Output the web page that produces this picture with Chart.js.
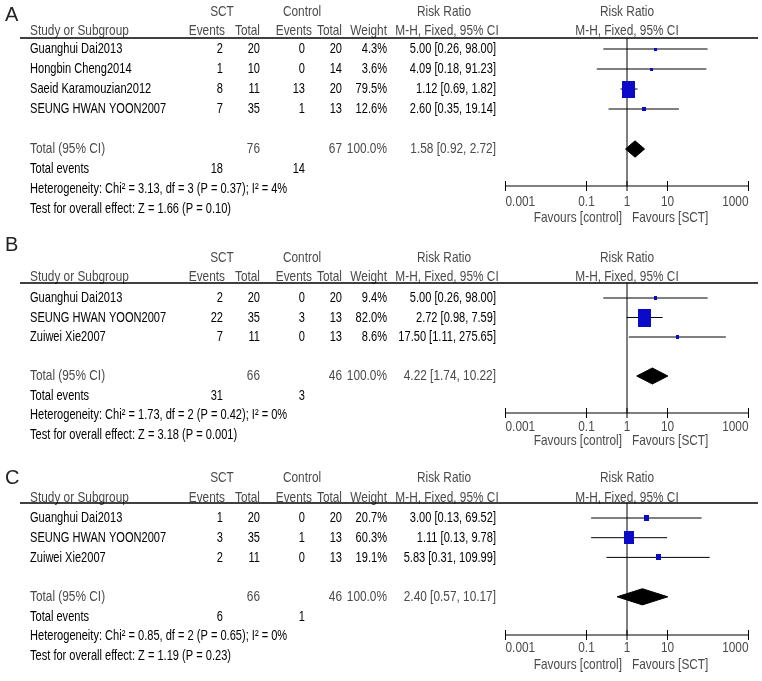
<!DOCTYPE html>
<html>
<head>
<meta charset="utf-8">
<script src="https://cdn.jsdelivr.net/npm/chart.js@4.4.0/dist/chart.umd.min.js"></script>
<style>
  html, body { margin: 0; padding: 0; background: #fff; }
  #wrap { position: relative; width: 762px; height: 681px; }
  canvas { position: absolute; left: 0; }
</style>
</head>
<body>
<div id="wrap">
  <canvas id="panelA" width="762" height="228" style="top:0px"></canvas>
  <canvas id="panelB" width="762" height="226" style="top:228px"></canvas>
  <canvas id="panelC" width="762" height="227" style="top:454px"></canvas>
</div>
<script>
// axis
const tickValues = [0.001, 0.1, 1, 10, 1000];
const tickLabels = ['0.001', '0.1', '1', '10', '1000'];

// Panel A
const studiesA = ['Guanghui Dai2013', 'Hongbin Cheng2014', 'Saeid Karamouzian2012', 'SEUNG HWAN YOON2007'];
const sctEventsA = [2, 1, 8, 7];
const sctTotalA = [20, 10, 11, 35];
const ctrlEventsA = [0, 0, 13, 1];
const ctrlTotalA = [20, 14, 20, 13];
const weightA = [4.3, 3.6, 79.5, 12.6];
const rrA = [5.00, 4.09, 1.12, 2.60];
const loA = [0.26, 0.18, 0.69, 0.35];
const hiA = [98.00, 91.23, 1.82, 19.14];
const pooledA = [1.58, 0.92, 2.72];
const sumTotalsA = [76, 67];
const sumEventsA = [18, 14];
const hetA = 'Heterogeneity: Chi\u00b2 = 3.13, df = 3 (P = 0.37); I\u00b2 = 4%';
const testA = 'Test for overall effect: Z = 1.66 (P = 0.10)';

// Panel B
const studiesB = ['Guanghui Dai2013', 'SEUNG HWAN YOON2007', 'Zuiwei Xie2007'];
const sctEventsB = [2, 22, 7];
const sctTotalB = [20, 35, 11];
const ctrlEventsB = [0, 3, 0];
const ctrlTotalB = [20, 13, 13];
const weightB = [9.4, 82.0, 8.6];
const rrB = [5.00, 2.72, 17.50];
const loB = [0.26, 0.98, 1.11];
const hiB = [98.00, 7.59, 275.65];
const pooledB = [4.22, 1.74, 10.22];
const sumTotalsB = [66, 46];
const sumEventsB = [31, 3];
const hetB = 'Heterogeneity: Chi\u00b2 = 1.73, df = 2 (P = 0.42); I\u00b2 = 0%';
const testB = 'Test for overall effect: Z = 3.18 (P = 0.001)';

// Panel C
const studiesC = ['Guanghui Dai2013', 'SEUNG HWAN YOON2007', 'Zuiwei Xie2007'];
const sctEventsC = [1, 3, 2];
const sctTotalC = [20, 35, 11];
const ctrlEventsC = [0, 1, 0];
const ctrlTotalC = [20, 13, 13];
const weightC = [20.7, 60.3, 19.1];
const rrC = [3.00, 1.11, 5.83];
const loC = [0.13, 0.13, 0.31];
const hiC = [69.52, 9.78, 109.99];
const pooledC = [2.40, 0.57, 10.17];
const sumTotalsC = [66, 46];
const sumEventsC = [6, 1];
const hetC = 'Heterogeneity: Chi\u00b2 = 0.85, df = 2 (P = 0.65); I\u00b2 = 0%';
const testC = 'Test for overall effect: Z = 1.19 (P = 0.23)';

const FONT = '"Liberation Sans", Arial, sans-serif';

// condensed text, the source uses a narrow face
function put(ctx, s, x, y, align, opt) {
  opt = opt || {};
  ctx.save();
  ctx.translate(x, y);
  ctx.scale(opt.sx || 0.738, 1);
  ctx.font = (opt.size || 15) + 'px ' + FONT;
  ctx.fillStyle = opt.color || '#000';
  ctx.textAlign = align;
  ctx.textBaseline = 'middle';
  ctx.fillText(s, 0, 0);
  ctx.restore();
}

function seg(ctx, x1, y1, x2, y2, w) {
  ctx.save();
  ctx.strokeStyle = '#000';
  ctx.lineWidth = w || 1;
  ctx.beginPath();
  ctx.moveTo(x1, y1);
  ctx.lineTo(x2, y2);
  ctx.stroke();
  ctx.restore();
}

function boxImage(w) {
  const c = document.createElement('canvas');
  c.width = Math.max(3, Math.round(2 + 0.14 * w));
  c.height = Math.max(3, Math.round(2 + 0.19 * w));
  const g = c.getContext('2d');
  g.fillStyle = '#0a0ac8';
  g.fillRect(0, 0, c.width, c.height);
  return c;
}

const f2 = v => v.toFixed(2);
const ci = (r, l, h) => f2(r) + ' [' + f2(l) + ', ' + f2(h) + ']';

function buildPanel(id, d, L) {
  const n = d.studies.length;
  const t = L.top, H = L.height;
  const HEAD = { color: '#4a4a4a', size: 15, sx: 0.79 };

  const axisPlugin = {
    id: 'forestAxis',
    beforeDatasetsDraw(chart) {
      const ctx = chart.ctx, xs = chart.scales.x, a = chart.chartArea;
      const x1 = xs.getPixelForValue(1);
      seg(ctx, x1, a.top, x1, a.bottom, 1);
      seg(ctx, xs.getPixelForValue(tickValues[0]), a.bottom, xs.getPixelForValue(tickValues[tickValues.length - 1]), a.bottom, 1);
      tickValues.forEach((v, k) => {
        const px = xs.getPixelForValue(v);
        seg(ctx, px, a.bottom - 5, px, a.bottom + 5, 1);
        const al = k === 0 ? 'left' : (k === tickValues.length - 1 ? 'right' : 'center');
        put(ctx, tickLabels[k], px, L.tickY - t, al, HEAD);
      });
      put(ctx, 'Favours [control]', x1 - 5, L.favY - t, 'right', HEAD);
      put(ctx, 'Favours [SCT]', x1 + 5, L.favY - t, 'left', HEAD);
    }
  };

  const textPlugin = {
    id: 'forestText',
    afterDraw(chart) {
      const ctx = chart.ctx, ys = chart.scales.y;
      const row = i => ys.getPixelForValue(i);
      put(ctx, d.letter, 5, L.letterY - t, 'left', { size: 20, sx: 1, color: '#222' });
      // headers
      const h1 = L.h1 - t, h2 = L.h2 - t;
      put(ctx, 'SCT', 222, h1, 'center', HEAD);
      put(ctx, 'Control', 302, h1, 'center', HEAD);
      put(ctx, 'Risk Ratio', 444, h1, 'center', HEAD);
      put(ctx, 'Risk Ratio', 627, h1, 'center', HEAD);
      put(ctx, 'Study or Subgroup', 30, h2, 'left', HEAD);
      put(ctx, 'Events', 225, h2, 'right', HEAD);
      put(ctx, 'Total', 260, h2, 'right', HEAD);
      put(ctx, 'Events', 312, h2, 'right', HEAD);
      put(ctx, 'Total', 342, h2, 'right', HEAD);
      put(ctx, 'Weight', 387, h2, 'right', HEAD);
      put(ctx, 'M-H, Fixed, 95% CI', 447, h2, 'center', HEAD);
      put(ctx, 'M-H, Fixed, 95% CI', 627, h2, 'center', HEAD);
      seg(ctx, 20, L.rule - t, 758, L.rule - t, 1.5);
      // study rows
      d.studies.forEach((s, i) => {
        const y = row(i);
        put(ctx, s, 30, y, 'left');
        put(ctx, String(d.sctEvents[i]), 223, y, 'right');
        put(ctx, String(d.sctTotal[i]), 260, y, 'right');
        put(ctx, String(d.ctrlEvents[i]), 305, y, 'right');
        put(ctx, String(d.ctrlTotal[i]), 342, y, 'right');
        put(ctx, d.weight[i].toFixed(1) + '%', 387, y, 'right');
        put(ctx, ci(d.rr[i], d.lo[i], d.hi[i]), 496, y, 'right');
      });
      // totals
      let y = row(n + 1);
      put(ctx, 'Total (95% CI)', 30, y, 'left', HEAD);
      put(ctx, String(d.sumTotals[0]), 260, y, 'right', HEAD);
      put(ctx, String(d.sumTotals[1]), 342, y, 'right', HEAD);
      put(ctx, '100.0%', 387, y, 'right', HEAD);
      put(ctx, ci(d.pooled[0], d.pooled[1], d.pooled[2]), 496, y, 'right', HEAD);
      y = row(n + 2);
      put(ctx, 'Total events', 30, y, 'left');
      put(ctx, String(d.sumEvents[0]), 223, y, 'right');
      put(ctx, String(d.sumEvents[1]), 305, y, 'right');
      put(ctx, d.het, 30, row(n + 3), 'left');
      put(ctx, d.test, 30, row(n + 4), 'left');
    }
  };

  const datasets = [];
  d.studies.forEach((s, i) => {
    datasets.push({
      type: 'line', data: [{ x: d.lo[i], y: i }, { x: d.hi[i], y: i }],
      borderColor: '#000', borderWidth: 1, pointRadius: 0, fill: false, order: 2
    });
  });
  datasets.push({
    type: 'scatter', data: d.rr.map((v, i) => ({ x: v, y: i })),
    pointStyle: d.weight.map(boxImage), pointRadius: 3, order: 1
  });
  const p = d.pooled, ty = n + 1, hh = 0.41;
  datasets.push({
    type: 'line',
    data: [{ x: p[1], y: ty }, { x: p[0], y: ty - hh }, { x: p[2], y: ty }, { x: p[0], y: ty + hh }, { x: p[1], y: ty }],
    borderColor: '#000', backgroundColor: '#000', borderWidth: 1, pointRadius: 0, fill: 'shape', tension: 0, order: 1
  });

  new Chart(document.getElementById(id), {
    type: 'scatter',
    data: { datasets },
    options: {
      responsive: false,
      animation: false,
      devicePixelRatio: 1,
      events: [],
      layout: { padding: { left: 505.5, right: 762 - 748.5, top: L.rule - t, bottom: t + H - L.axis } },
      plugins: { legend: { display: false }, tooltip: { enabled: false } },
      scales: {
        x: { type: 'logarithmic', min: 0.001, max: 1000, display: false },
        y: {
          type: 'linear', reverse: true, display: false,
          min: (L.rule - L.row0) / L.dy, max: (L.axis - L.row0) / L.dy
        }
      }
    },
    plugins: [axisPlugin, textPlugin]
  });
}

buildPanel('panelA', {
  letter: 'A', studies: studiesA, sctEvents: sctEventsA, sctTotal: sctTotalA, ctrlEvents: ctrlEventsA,
  ctrlTotal: ctrlTotalA, weight: weightA, rr: rrA, lo: loA, hi: hiA, pooled: pooledA,
  sumTotals: sumTotalsA, sumEvents: sumEventsA, het: hetA, test: testA
}, { top: 0, height: 228, letterY: 15, h1: 12, h2: 31, rule: 38, row0: 49, dy: 20, axis: 186, tickY: 202, favY: 218 });

buildPanel('panelB', {
  letter: 'B', studies: studiesB, sctEvents: sctEventsB, sctTotal: sctTotalB, ctrlEvents: ctrlEventsB,
  ctrlTotal: ctrlTotalB, weight: weightB, rr: rrB, lo: loB, hi: hiB, pooled: pooledB,
  sumTotals: sumTotalsB, sumEvents: sumEventsB, het: hetB, test: testB
}, { top: 228, height: 226, letterY: 245, h1: 258, h2: 277, rule: 283, row0: 298, dy: 19.5, axis: 413, tickY: 427, favY: 441 });

buildPanel('panelC', {
  letter: 'C', studies: studiesC, sctEvents: sctEventsC, sctTotal: sctTotalC, ctrlEvents: ctrlEventsC,
  ctrlTotal: ctrlTotalC, weight: weightC, rr: rrC, lo: loC, hi: hiC, pooled: pooledC,
  sumTotals: sumTotalsC, sumEvents: sumEventsC, het: hetC, test: testC
}, { top: 454, height: 227, letterY: 478, h1: 478, h2: 498, rule: 503, row0: 518, dy: 19.7, axis: 635, tickY: 648, favY: 665 });
</script>
</body>
</html>
